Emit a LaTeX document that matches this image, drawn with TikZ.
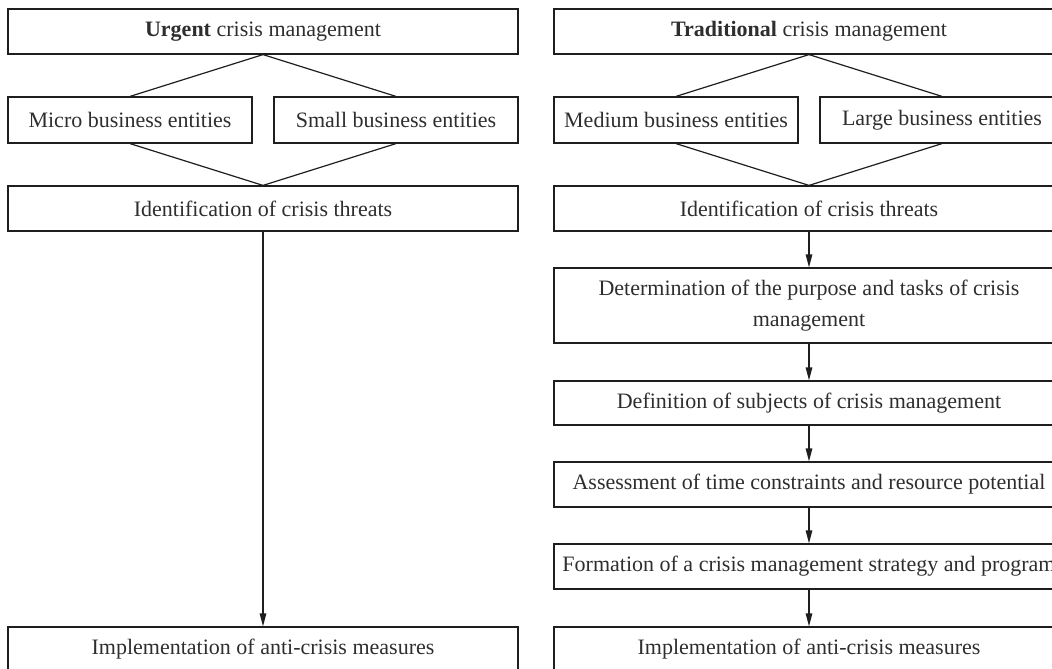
\documentclass[tikz,border=0pt]{standalone}
\usepackage{fontspec}
\setmainfont{Liberation Serif}
\usetikzlibrary{arrows.meta}
\definecolor{txt}{HTML}{2E2E2E}
\definecolor{ln}{HTML}{1E1E1E}
\tikzset{
  box/.style={draw=ln, line width=1.2pt, inner sep=0pt, minimum width=510pt, minimum height=45pt,
    text=txt, align=center, font=\fontsize{22}{31.5}\selectfont},
  ebox/.style={box, minimum width=244pt, minimum height=46pt},
  conn/.style={draw=ln, line width=1.2pt},
  arr/.style={conn, -{Triangle[length=13pt,width=6.5pt]}}
}
\begin{document}
\begin{tikzpicture}[x=1pt,y=-1pt]
\useasboundingbox (0,0) rectangle (1052,669);
% left column
\node[box] (lt) at (263,31.5) {\textbf{Urgent} crisis management};
\node[ebox] (micro) at (130,120) {Micro business entities};
\node[ebox] (small) at (396,120) {Small business entities};
\node[box] (lid) at (263,208.5) {Identification of crisis threats};
\node[box] (limp) at (263,649.5) {Implementation of anti-crisis measures};
\draw[conn] (micro.north) -- (lt.south) -- (small.north);
\draw[conn] (micro.south) -- (lid.north) -- (small.south);
\draw[arr] (lid.south) -- (limp.north);
% right column
\node[box] (rt) at (809,31.5) {\textbf{Traditional} crisis management};
\node[ebox] (medium) at (676,120) {Medium business entities};
\node[ebox] (large) at (942,120) {Large business entities};
\node[box] (rid) at (809,208.5) {Identification of crisis threats};
\node[box, minimum height=75pt] (det) at (809,305.5) {Determination of the purpose and tasks of crisis\\ management};
\node[box, minimum height=44pt] (def) at (809,403) {Definition of subjects of crisis management};
\node[box] (ass) at (809,484.5) {Assessment of time constraints and resource potential};
\node[box] (form) at (809,566.5) {Formation of a crisis management strategy and program};
\node[box] (rimp) at (809,649.5) {Implementation of anti-crisis measures};
\draw[conn] (medium.north) -- (rt.south) -- (large.north);
\draw[conn] (medium.south) -- (rid.north) -- (large.south);
\draw[arr] (rid.south) -- (det.north);
\draw[arr] (det.south) -- (def.north);
\draw[arr] (def.south) -- (ass.north);
\draw[arr] (ass.south) -- (form.north);
\draw[arr] (form.south) -- (rimp.north);
\end{tikzpicture}
\end{document}
